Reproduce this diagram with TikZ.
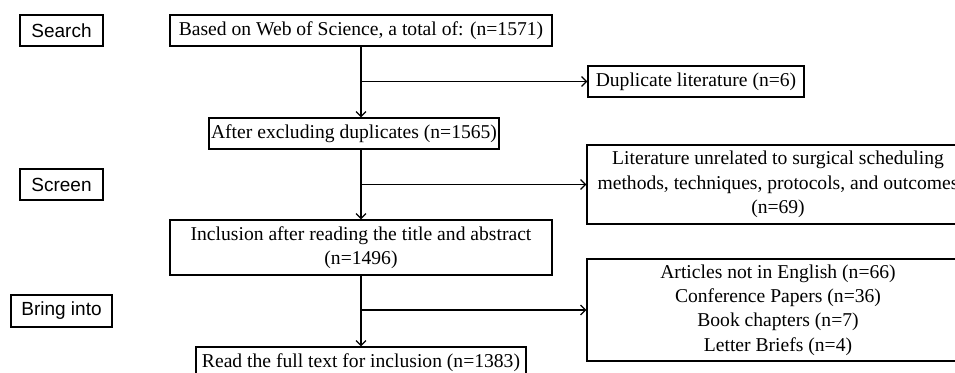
\documentclass[tikz,border=0pt]{standalone}
\usepackage{fontspec}
\setmainfont{Liberation Serif}
\newfontfamily\labelfont{Liberation Sans}
\usetikzlibrary{arrows.meta}

\begin{document}
\begin{tikzpicture}[x=1pt,y=-1pt,
    box/.style={draw,line width=1.2pt,inner sep=0pt,align=center,
      font=\fontsize{19.6}{24.3}\selectfont},
    stage/.style={draw,line width=1.2pt,inner sep=0pt,
      font=\labelfont\fontsize{19}{22}\selectfont},
    flow/.style={line width=1.2pt,-{Straight Barb[length=5pt,width=10pt]}}]
    \useasboundingbox (0,0) rectangle (955,372);
    % stages on the left
    \node[stage,minimum width=83,minimum height=31] (search) at (61.5,30.5) {Search};
    \node[stage,minimum width=83,minimum height=31] (screen) at (61.5,184.5) {Screen};
    \node[stage,minimum width=101,minimum height=32] (bring) at (61.5,311) {Bring into};
    % main column
    \node[box,minimum width=382,minimum height=31] (wos) at (361,30.5)
      {Based on Web of Science, a total of: (n=1571)};
    \node[box,minimum width=290,minimum height=31] (nodup) at (354,133.5)
      {After excluding duplicates (n=1565)};
    \node[box,minimum width=382,minimum height=55] (title) at (361,247.5)
      {Inclusion after reading the title and abstract\\(n=1496)};
    \node[box,minimum width=330,minimum height=31] (full) at (361,362.5)
      {Read the full text for inclusion (n=1383)};
    % exclusions on the right
    \node[box,minimum width=216,minimum height=31] (dup) at (696,81.5)
      {Duplicate literature (n=6)};
    \node[box,minimum width=382,minimum height=79] (unrel) at (778,184.5)
      {Literature unrelated to surgical scheduling\\methods, techniques, protocols, and outcomes\\(n=69)};
    \node[box,minimum width=382,minimum height=102] (other) at (778,310)
      {Articles not in English (n=66)\\Conference Papers (n=36)\\Book chapters (n=7)\\Letter Briefs (n=4)};
    % arrows
    \draw[flow] (wos.south) -- (wos.south |- nodup.north);
    \draw[flow] (wos.south |- dup.west) -- (dup.west);
    \draw[flow] (title.north |- nodup.south) -- (title.north);
    \draw[flow] (title.north |- unrel.west) -- (unrel.west);
    \draw[flow] (title.south) -- (full.north);
    \draw[flow] (title.south |- other.west) -- (other.west);
\end{tikzpicture}
\end{document}
